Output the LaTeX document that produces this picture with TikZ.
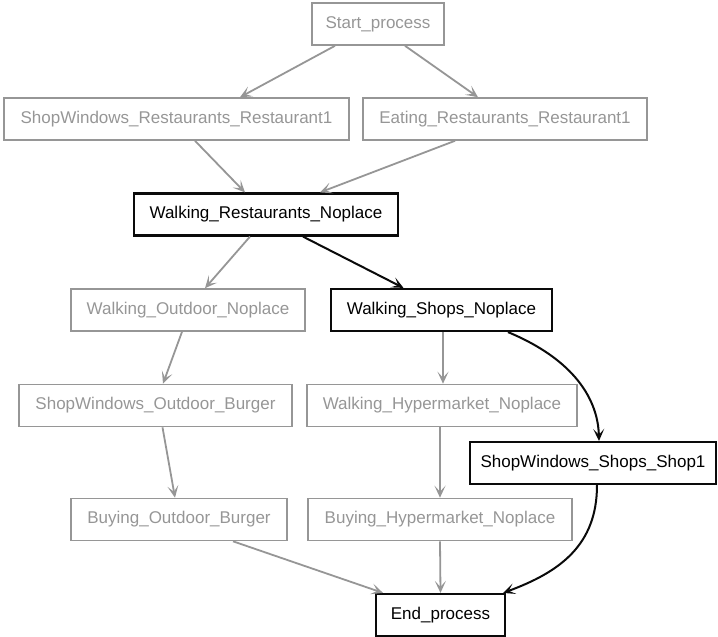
\documentclass[tikz,border=0pt]{standalone}
\usepackage{fontspec}
\setmainfont{Liberation Sans}
\usetikzlibrary{arrows.meta}
\definecolor{dimline}{RGB}{150,150,150}
\definecolor{dimtext}{RGB}{150,150,150}
\definecolor{pathline}{RGB}{10,10,10}
\tikzset{
  box/.style={rectangle, inner sep=0pt, minimum height=42pt,
    font=\fontsize{17}{20}\selectfont},
  dimbox/.style={box, draw=dimline, line width=1.6pt, text=dimtext},
  pathbox/.style={box, draw=pathline, line width=2.2pt, text=black},
  tip/.style={-{Stealth[length=12pt,width=11pt,inset=6pt]}},
  dimedge/.style={tip, draw=dimline, line width=1.8pt},
  pathedge/.style={tip, draw=pathline, line width=2pt},
}
\begin{document}
\begin{tikzpicture}[x=1pt,y=-1pt]
\useasboundingbox (0,0) rectangle (718,637);

% activity nodes
\node[dimbox, minimum width=132pt] (start) at (378,24) {Start\_process};
\node[dimbox, minimum width=345pt] (swr) at (176.5,119) {ShopWindows\_Restaurants\_Restaurant1};
\node[dimbox, minimum width=284pt] (eat) at (505,119) {Eating\_Restaurants\_Restaurant1};
\node[pathbox, minimum width=264pt] (wrn) at (266,214.5) {Walking\_Restaurants\_Noplace};
\node[dimbox, minimum width=234pt] (won) at (188,310) {Walking\_Outdoor\_Noplace};
\node[pathbox, minimum width=221pt] (wsn) at (441.5,310) {Walking\_Shops\_Noplace};
\node[dimbox, minimum width=273pt] (swob) at (155.5,405.5) {ShopWindows\_Outdoor\_Burger};
\node[dimbox, minimum width=270pt] (whn) at (442,405.5) {Walking\_Hypermarket\_Noplace};
\node[pathbox, minimum width=246pt] (swss) at (593,463) {ShopWindows\_Shops\_Shop1};
\node[dimbox, minimum width=216pt] (bob) at (179,519.5) {Buying\_Outdoor\_Burger};
\node[dimbox, minimum width=264pt] (bhn) at (440,519.5) {Buying\_Hypermarket\_Noplace};
\node[pathbox, minimum width=129pt] (end) at (440.5,615) {End\_process};

% transitions
\draw[dimedge] ([xshift=-43pt]start.south) -- ([xshift=63.5pt]swr.north);
\draw[dimedge] ([xshift=27pt]start.south) -- ([xshift=-27pt]eat.north);
\draw[dimedge] ([xshift=18.5pt]swr.south) -- ([xshift=-21pt]wrn.north);
\draw[dimedge] ([xshift=-50pt]eat.south) -- ([xshift=54pt]wrn.north);
\draw[dimedge] ([xshift=-16pt]wrn.south) -- ([xshift=17pt]won.north);
\draw[pathedge] ([xshift=37pt]wrn.south) -- ([xshift=-38pt]wsn.north);
\draw[dimedge] ([xshift=-6pt]won.south) -- ([xshift=7.5pt]swob.north);
\draw[dimedge] ([xshift=7pt]swob.south) -- ([xshift=-4pt]bob.north);
\draw[dimedge] ([xshift=1.5pt]wsn.south) -- ([xshift=1pt]whn.north);
\draw[dimedge] ([xshift=-2pt]whn.south) -- (bhn.north);
\draw[dimedge] ([xshift=54pt]bob.south) -- ([xshift=-57.5pt]end.north);
\draw[dimedge] (bhn.south) -- (end.north);
\draw[pathedge] ([xshift=66.5pt]wsn.south) .. controls (575,360) and (598,400) .. ([xshift=6pt]swss.north);
\draw[pathedge] ([xshift=4pt]swss.south) .. controls (597,545) and (560,572) .. ([xshift=-3pt]end.north east);
\end{tikzpicture}
\end{document}
